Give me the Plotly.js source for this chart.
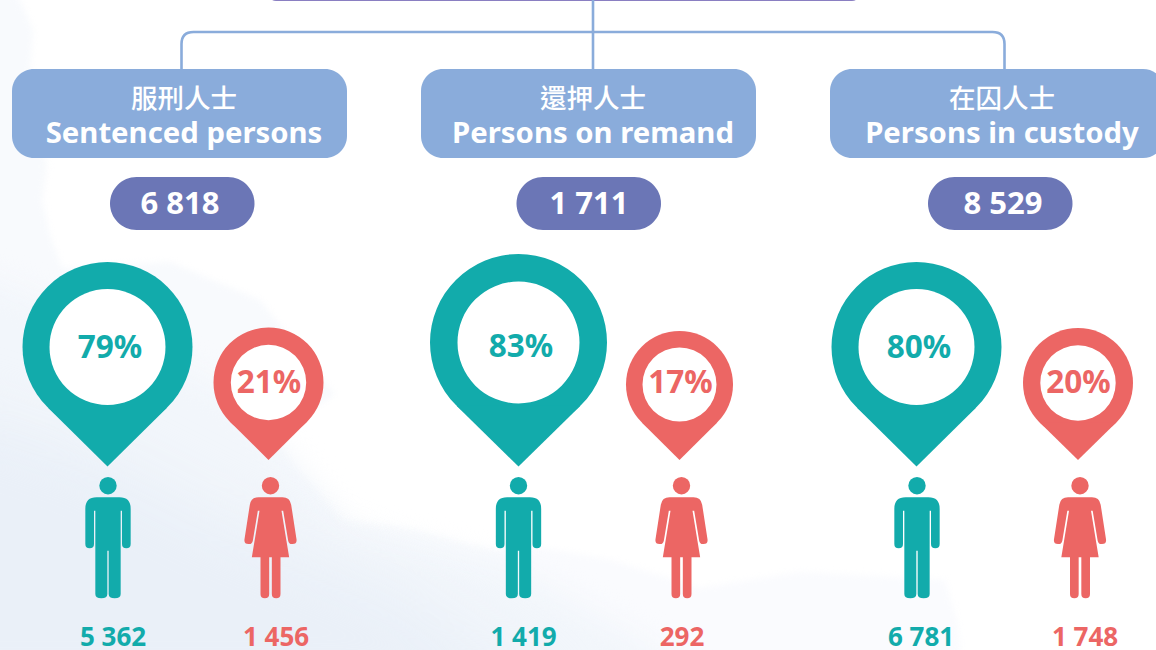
<!DOCTYPE html>
<html><head><meta charset="utf-8">
<script src="https://cdn.plot.ly/plotly-3.0.1.min.js"></script>
<style>html,body{margin:0;padding:0;background:#fff}#c{width:1156px;height:650px}</style>
</head><body><div id="c"></div>
<script>
// ---- content ----
const groupsZh = ['服刑人士','還押人士','在囚人士'];
const groupsEn = ['Sentenced persons','Persons on remand','Persons in custody'];
const totals = ['6 818','1 711','8 529'];
const malePct = ['79%','83%','80%'];
const femalePct = ['21%','17%','20%'];
const maleCount = ['5 362','1 419','6 781'];
const femaleCount = ['1 456','292','1 748'];

// ---- layout anchors (pixel-scaled axes) ----
const W=1156,H=650;
const TEAL='#12abab',CORAL='#ec6664',PANEL='#8aacdb',PILL='#6b76b6';
const panelX0=[12,421,830], panelW=335, panelTop=69, panelBot=158;
const panelTextX=[184,593,1002];
const pillX0=[110,516.5,928], pillW=144.5, pillTextX=[180,589,1003];
const malePin={cx:[107.5,518.5,916.5],cy:[347,342.5,347],r:[85,88.5,85],hole:[58,61,58],tip:[466.5,466.5,466.5]};
const femPin ={cx:[268.5,679.5,1078],cy:[382.5,384.5,383],r:[55,53.5,55],hole:[37.7,37,37.7],tip:[460,460,460]};
const malePctX=[110,521,919], femPctX=[269,680.5,1078.5];
const malePctY=[350,349.5,350], femPctY=[385.5,385.5,385.5];
const manX=[108,518.5,917], womanX=[270.5,681.5,1080];
const maleCountX=[113,523.5,921], femCountX=[276,682,1085];

const MAN='M -68 116 Q -68 82 -34 82 L 34 82 Q 68 82 68 116 L 68 222 Q 68 235 55 235 Q 42 235 42 222 L 42 122 L 38 122 L 38 372 Q 38 385 20 385 Q 2 385 2 372 L 2 242 L -2 242 L -2 372 Q -2 385 -20 385 Q -38 385 -38 372 L -38 122 L -42 122 L -42 222 Q -42 235 -55 235 Q -68 235 -68 222 Z';
const WOMAN='M -36 82 L 36 82 Q 58 82 62 104 L 78 208 Q 80 222 66 222 Q 56 224 53 212 L 38 122 L 33 122 L 56 262 L 30 262 L 30 372 Q 30 385 17 385 Q 4 385 4 372 L 4 262 L -4 262 L -4 372 Q -4 385 -17 385 Q -30 385 -30 372 L -30 262 L -56 262 L -33 122 L -38 122 L -53 212 Q -56 224 -66 222 Q -80 222 -78 208 L -62 104 Q -58 82 -36 82 Z';

function rrect(x0,y0,x1,y1,r){
  const k=r*0.4477; // control-point inset for a circular corner
  return `M ${x0+r} ${y0} L ${x1-r} ${y0} C ${x1-k} ${y0} ${x1} ${y0+k} ${x1} ${y0+r} L ${x1} ${y1-r} C ${x1} ${y1-k} ${x1-k} ${y1} ${x1-r} ${y1} L ${x0+r} ${y1} C ${x0+k} ${y1} ${x0} ${y1-k} ${x0} ${y1-r} L ${x0} ${y0+r} C ${x0} ${y0+k} ${x0+k} ${y0} ${x0+r} ${y0} Z`;
}
function fillShape(path,color){return {type:'path',path,fillcolor:color,line:{width:0},layer:'below',xref:'x',yref:'y'};}
function circ(cx,cy,r,color){return {type:'circle',x0:cx-r,x1:cx+r,y0:cy-r,y1:cy+r,fillcolor:color,line:{width:0},layer:'below',xref:'x',yref:'y'};}
function pin(cx,cy,r,hole,tip,color){
  const d=tip-cy, a=Math.asin(r/d), tx=r*Math.cos(a), ty=r*Math.sin(a);
  return [circ(cx,cy,r,color),
    fillShape(`M ${cx-tx} ${cy+ty} L ${cx} ${tip} L ${cx+tx} ${cy+ty} Z`,color),
    circ(cx,cy,hole,'#ffffff')];
}
function glyph(path,cx){
  return path.replace(/(-?[\d.]+) (-?[\d.]+)/g,(m,a,b)=>`${(cx+a/3).toFixed(2)} ${(470+b/3).toFixed(2)}`);
}

// watercolour wash, painted once and placed as the plot background image
function washImage(){
  const c=document.createElement('canvas');c.width=W;c.height=H;
  const g=c.getContext('2d');
  const draw=(pts,color,blur)=>{g.filter=`blur(${blur}px)`;g.fillStyle=color;g.beginPath();
    pts.forEach((p,i)=>i?g.lineTo(p[0],p[1]):g.moveTo(p[0],p[1]));g.closePath();g.fill();};
  draw([[500,540],[611,560],[700,588],[800,572],[945,580],[958,625],[965,700],[500,700]],'#fafbfe',3);
  draw([[-40,-40],[20,0],[33,30],[30,70],[38,130],[47,165],[42,200],[50,235],[62,268],[170,262],[260,300],[335,395],[285,425],[277,440],[295,468],[317,490],[343,520],[417,530],[470,545],[522,555],[600,700],[-40,700]],'#f8fafd',3);
  draw([[-60,260],[120,330],[240,400],[300,470],[350,530],[520,570],[640,640],[720,700],[-60,700]],'#f2f6fb',14);
  draw([[-60,400],[90,450],[230,520],[400,590],[560,700],[-60,700]],'#eaf0f8',28);
  return c.toDataURL('image/png');
}

const shapes=[];
shapes.push(fillShape(rrect(268,-30,860,1,8),'#8a7fc2'));
shapes.push({type:'path',path:'M 181.5 69 L 181.5 44 Q 181.5 32 193.5 32 L 992.5 32 Q 1004.5 32 1004.5 44 L 1004.5 69',line:{color:PANEL,width:2.6},fillcolor:'rgba(0,0,0,0)',layer:'below',xref:'x',yref:'y'});
shapes.push({type:'line',x0:593,x1:593,y0:0,y1:69,line:{color:PANEL,width:2.6},layer:'below',xref:'x',yref:'y'});
panelX0.forEach(x=>shapes.push(fillShape(rrect(x,panelTop,x+panelW,panelBot,22),PANEL)));
pillX0.forEach(x=>shapes.push(fillShape(rrect(x,177,x+pillW,230,26.5),PILL)));
[0,1,2].forEach(i=>{
  shapes.push(...pin(malePin.cx[i],malePin.cy[i],malePin.r[i],malePin.hole[i],malePin.tip[i],TEAL));
  shapes.push(...pin(femPin.cx[i],femPin.cy[i],femPin.r[i],femPin.hole[i],femPin.tip[i],CORAL));
  shapes.push(circ(manX[i],485.7,8.7,TEAL),fillShape(glyph(MAN,manX[i]),TEAL));
  shapes.push(circ(womanX[i],485.7,8.7,CORAL),fillShape(glyph(WOMAN,womanX[i]),CORAL));
});

const SANS='"Noto Sans","Open Sans",sans-serif', CJK='"Noto Sans CJK TC","Noto Sans",sans-serif';
function txt(name,x,y,text,size,color,family,weight){
  return {type:'scatter',mode:'text',name,x,y,text,textposition:'middle center',cliponaxis:false,hoverinfo:'skip',
    textfont:{size,color,family,weight:weight||700},showlegend:false};
}
const rep=(v,n)=>n.map(()=>v);
const traces=[
  txt('zh',panelTextX,rep(101,groupsZh),groupsZh,26.5,'#ffffff',CJK,500),
  txt('en',panelTextX,rep(135.5,groupsEn),groupsEn,29.3,'#ffffff',SANS),
  txt('total',pillTextX,rep(206,totals),totals,31,'#ffffff',SANS),
  txt('malePct',malePctX,malePctY,malePct,31.5,TEAL,SANS),
  txt('femalePct',femPctX,femPctY,femalePct,31.5,CORAL,SANS),
  txt('maleCount',maleCountX,rep(639.5,maleCount),maleCount,26,TEAL,SANS),
  txt('femaleCount',femCountX,rep(639.5,femaleCount),femaleCount,26,CORAL,SANS)
];
const axis=r=>({range:r,visible:false,fixedrange:true,showgrid:false,zeroline:false});
Plotly.newPlot('c',traces,{width:W,height:H,margin:{l:0,r:0,t:0,b:0,pad:0},
  paper_bgcolor:'#ffffff',plot_bgcolor:'rgba(0,0,0,0)',xaxis:axis([0,W]),yaxis:axis([H,0]),shapes,showlegend:false,
  images:[{source:washImage(),xref:'paper',yref:'paper',x:0,y:1,sizex:1,sizey:1,sizing:'stretch',layer:'below',xanchor:'left',yanchor:'top'}]},
  {displayModeBar:false,staticPlot:true});
</script></body></html>
